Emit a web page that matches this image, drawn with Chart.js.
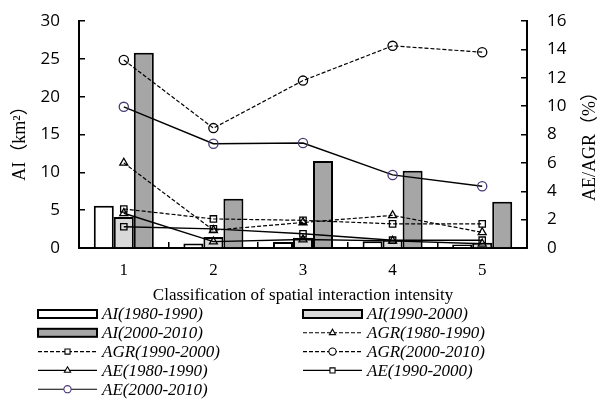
<!DOCTYPE html>
<html>
<head>
<meta charset="utf-8">
<script src="https://cdn.jsdelivr.net/npm/chart.js@4/dist/chart.umd.min.js"></script>
<style>
  html, body { margin: 0; padding: 0; background: #fff; }
  #wrap { width: 601px; height: 403px; position: relative; }
</style>
</head>
<body>
<div id="wrap"><canvas id="c" width="601" height="403"></canvas></div>
<script>
// ---- data ----
const categories = ['1', '2', '3', '4', '5'];
const leftTicks = [0, 5, 10, 15, 20, 25, 30];
const rightTicks = [0, 2, 4, 6, 8, 10, 12, 14, 16];
const ai8090 = [5.6, 0.58, 0.8, 0.9, 0.45];
const ai9000 = [4.1, 1.45, 1.35, 1.1, 0.7];
const ai0010 = [25.8, 6.5, 11.5, 10.2, 6.1];
const agr8090 = [6.0, 1.25, 1.8, 2.3, 1.1];
const agr9000 = [2.75, 2.05, 1.95, 1.7, 1.7];
const agr0010 = [13.25, 8.45, 11.8, 14.25, 13.8];
const ae8090 = [2.45, 0.45, 0.6, 0.5, 0.3];
const ae9000 = [1.5, 1.35, 1.0, 0.55, 0.55];
const ae0010 = [9.95, 7.35, 7.4, 5.15, 4.35];
const xTitle = 'Classification of spatial interaction intensity';
const leftTitle = 'AI（km²）';
const rightTitle = 'AE/AGR（%）';

const SERIF = '"Liberation Serif", "Times New Roman", "Noto Sans CJK SC", serif';
const SANS = '"Open Sans", "Liberation Sans", sans-serif';

function barDs(label, data, color) {
  return { type: 'bar', label, data, yAxisID: 'y', order: 2,
    backgroundColor: color, borderColor: '#000', borderWidth: 2,
    barPercentage: 1, categoryPercentage: 0.67 };
}
function lineDs(label, data, style, dashed, pointColor) {
  return { type: 'line', label, data, yAxisID: 'y1', order: 1,
    borderColor: '#000', borderWidth: dashed ? 1.2 : 1.4,
    borderDash: dashed ? [4, 2] : [],
    pointStyle: style, pointRadius: style === 'rect' ? 4.5 : 4.6,
    pointBorderColor: pointColor || '#000', pointBackgroundColor: 'rgba(255,255,255,0)',
    pointBorderWidth: 1.3, fill: false, tension: 0 };
}

const datasets = [
  barDs('AI(1980-1990)', ai8090, '#ffffff'),
  barDs('AI(1990-2000)', ai9000, '#d9d9d9'),
  barDs('AI(2000-2010)', ai0010, '#a6a6a6'),
  lineDs('AGR(1980-1990)', agr8090, 'triangle', true),
  lineDs('AGR(1990-2000)', agr9000, 'rect', true),
  lineDs('AGR(2000-2010)', agr0010, 'circle', true),
  lineDs('AE(1980-1990)', ae8090, 'triangle', false),
  lineDs('AE(1990-2000)', ae9000, 'rect', false),
  lineDs('AE(2000-2010)', ae0010, 'circle', false, '#4a3a78')
];

const extras = {
  id: 'extras',
  afterDraw(chart) {
    const ctx = chart.ctx;
    const area = chart.chartArea;
    ctx.save();
    ctx.fillStyle = '#000';
    // x title
    ctx.font = '17px ' + SERIF;
    ctx.textAlign = 'center';
    ctx.textBaseline = 'middle';
    ctx.fillText(xTitle, (area.left + area.right) / 2, 296);
    // y titles (both read bottom-to-top)
    ctx.font = '18px ' + SERIF;
    ctx.save();
    ctx.translate(20, 139);
    ctx.rotate(-Math.PI / 2);
    ctx.fillText(leftTitle, 0, 0);
    ctx.restore();
    ctx.save();
    ctx.translate(590, 142);
    ctx.rotate(-Math.PI / 2);
    ctx.fillText(rightTitle, 0, 0);
    ctx.restore();
    // legend
    const colX = [38, 303];
    const y0 = 314, dy = 18.8, sw = 59;
    ctx.font = 'italic 17px ' + SERIF;
    ctx.textAlign = 'left';
    chart.data.datasets.forEach((ds, i) => {
      const cx = colX[i % 2];
      const cy = y0 + Math.floor(i / 2) * dy;
      if (ds.type === 'bar') {
        ctx.fillStyle = ds.backgroundColor;
        ctx.fillRect(cx, cy - 4, sw, 8);
        ctx.strokeStyle = '#000';
        ctx.lineWidth = 2;
        ctx.setLineDash([]);
        ctx.strokeRect(cx, cy - 4, sw, 8);
      } else {
        ctx.strokeStyle = '#000';
        ctx.lineWidth = 1.1;
        ctx.setLineDash(ds.borderDash);
        ctx.beginPath();
        ctx.moveTo(cx, cy);
        ctx.lineTo(cx + sw, cy);
        ctx.stroke();
        ctx.setLineDash([]);
        ctx.strokeStyle = ds.pointBorderColor;
        ctx.fillStyle = '#fff';
        ctx.lineWidth = 1.1;
        Chart.helpers.drawPoint(ctx, { pointStyle: ds.pointStyle, radius: 3.6, rotation: 0, borderWidth: 1.1 }, cx + sw / 2, cy);
      }
      ctx.fillStyle = '#000';
      ctx.textBaseline = 'middle';
      ctx.fillText(ds.label, cx + sw + 5, cy + 1);
    });
    ctx.restore();
  }
};

function noPad(s) { s.paddingTop = 0; s.paddingBottom = 0; }

new Chart(document.getElementById('c'), {
  data: { labels: categories, datasets },
  options: {
    responsive: false,
    animation: false,
    devicePixelRatio: 1,
    layout: { padding: { top: 21, left: 0, right: 0, bottom: 0 } },
    plugins: { legend: { display: false }, tooltip: { enabled: false } },
    scales: {
      x: {
        type: 'category',
        offset: true,
        grid: { display: true, drawOnChartArea: false, offset: true, tickLength: -6, color: '#000', lineWidth: 1.5 },
        border: { display: true, color: '#000', width: 2 },
        ticks: { color: '#000', font: { family: SERIF, size: 17 }, padding: 18 },
        afterFit(s) { s.height = 155; s.paddingLeft = 0; s.paddingRight = 0; }
      },
      y: {
        position: 'left', min: 0, max: 30,
        afterBuildTicks(s) { s.ticks = leftTicks.map(v => ({ value: v })); },
        grid: { display: true, drawOnChartArea: false, tickLength: -6, color: '#000', lineWidth: 1.5 },
        border: { display: true, color: '#000', width: 2 },
        ticks: { color: '#000', font: { family: SANS, size: 17 }, padding: 25 },
        afterFit(s) { s.width = 79; noPad(s); }
      },
      y1: {
        position: 'right', min: 0, max: 16,
        afterBuildTicks(s) { s.ticks = rightTicks.map(v => ({ value: v })); },
        grid: { display: true, drawOnChartArea: false, tickLength: -6, color: '#000', lineWidth: 1.5 },
        border: { display: true, color: '#000', width: 2 },
        ticks: { color: '#000', font: { family: SANS, size: 17 }, padding: 26 },
        afterFit(s) { s.width = 74; noPad(s); }
      }
    }
  },
  plugins: [extras]
});
</script>
</body>
</html>
